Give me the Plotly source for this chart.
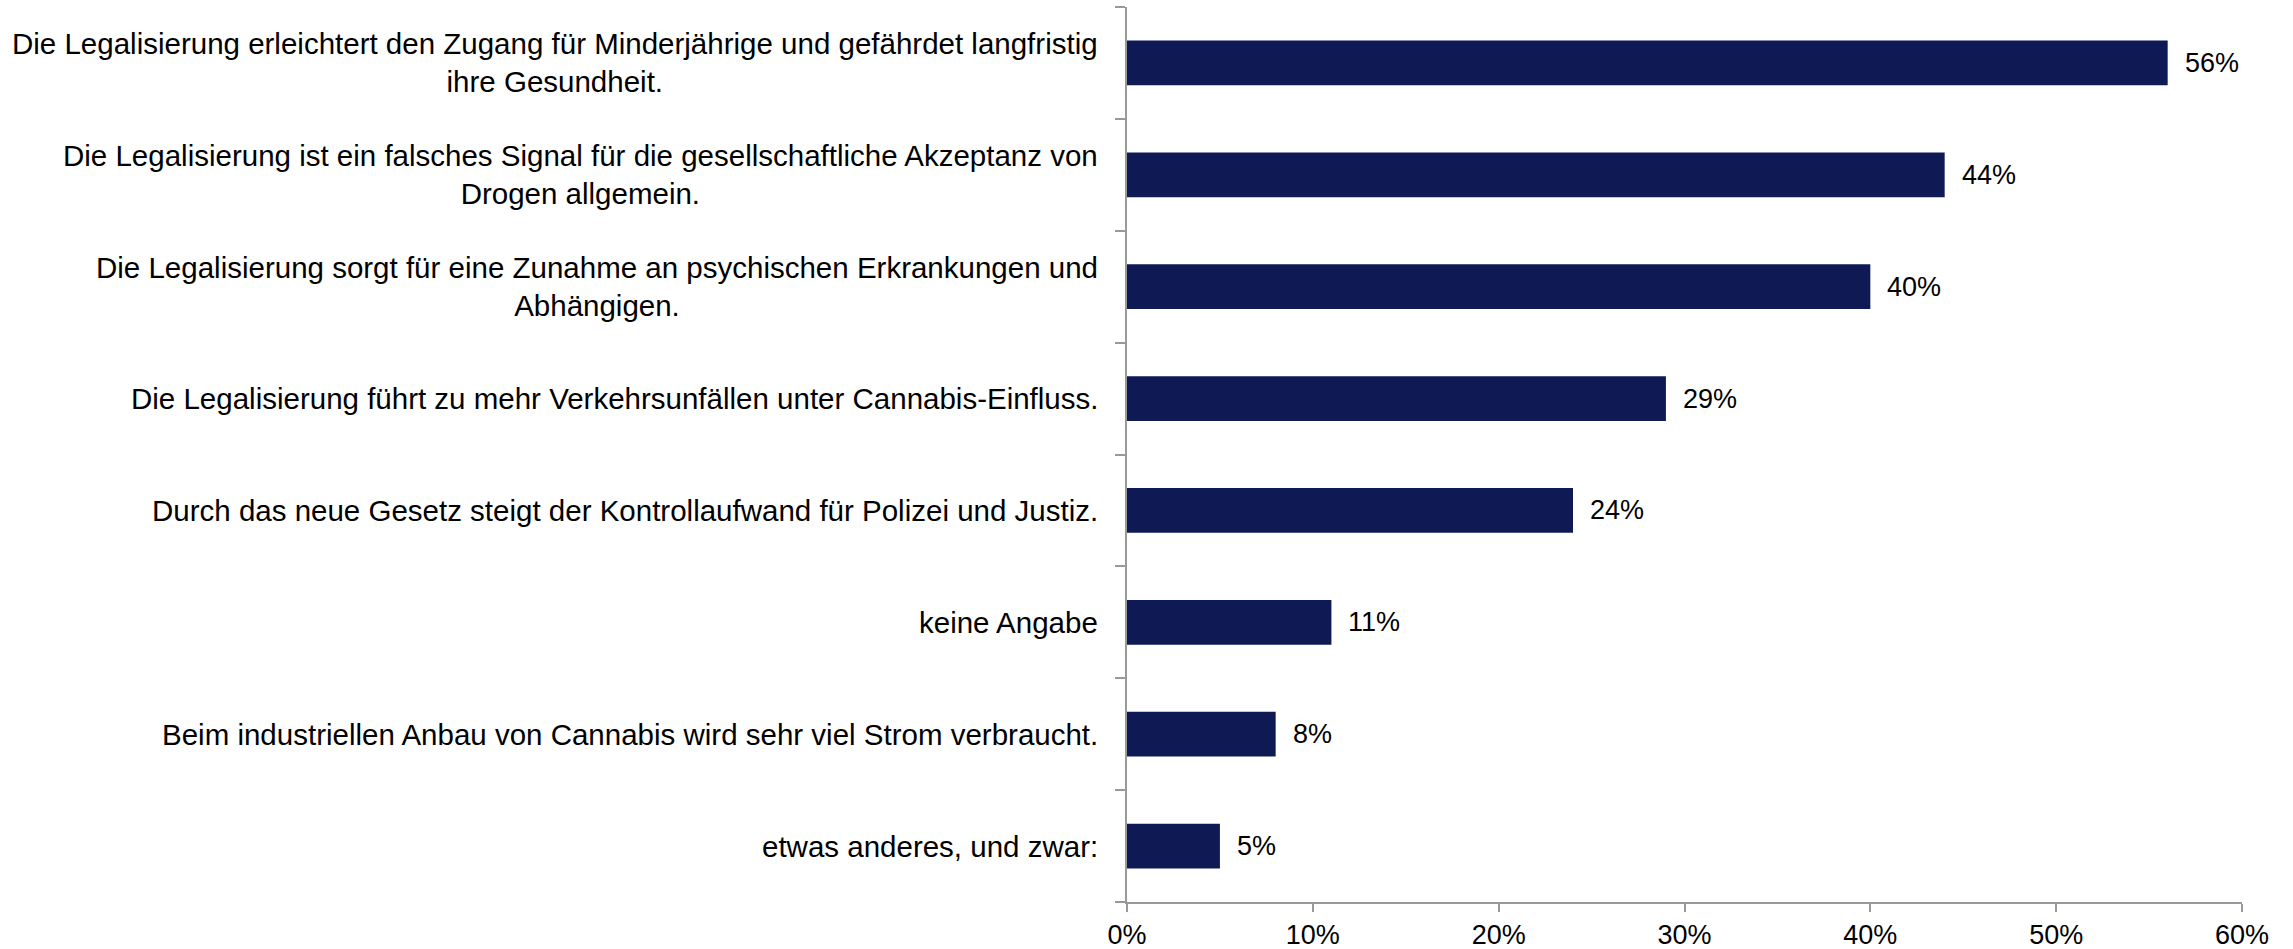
import plotly.graph_objects as go

categories = [
    "Die Legalisierung erleichtert den Zugang für Minderjährige und gefährdet langfristig<br>ihre Gesundheit.",
    "Die Legalisierung ist ein falsches Signal für die gesellschaftliche Akzeptanz von<br>Drogen allgemein.",
    "Die Legalisierung sorgt für eine Zunahme an psychischen Erkrankungen und<br>Abhängigen.",
    "Die Legalisierung führt zu mehr Verkehrsunfällen unter Cannabis-Einfluss.",
    "Durch das neue Gesetz steigt der Kontrollaufwand für Polizei und Justiz.",
    "keine Angabe",
    "Beim industriellen Anbau von Cannabis wird sehr viel Strom verbraucht.",
    "etwas anderes, und zwar:",
]
values = [56, 44, 40, 29, 24, 11, 8, 5]
x_ticks = [0, 10, 20, 30, 40, 50, 60]
x_tick_labels = [f"{t}%" for t in x_ticks]

FONT = "Liberation Sans, Arial, Helvetica, sans-serif"
FS_LABEL = 29.5
FS = 27
BAR = "#0f1a55"
AXIS = "#999999"

ids = list(range(len(categories)))

fig = go.Figure()
fig.add_trace(go.Bar(
    x=values, y=ids, orientation="h",
    marker=dict(color=BAR, line=dict(width=0)),
    width=0.4, hoverinfo="skip",
))

annotations = []
for i, (c, v) in enumerate(zip(categories, values)):
    annotations.append(dict(
        x=v, y=i, xref="x", yref="y", text=f"{v}%", showarrow=False,
        xanchor="left", yanchor="middle", xshift=15,
        font=dict(family=FONT, size=FS, color="#000000"),
    ))
    annotations.append(dict(
        x=0, y=i, xref="paper", yref="y", text=c, showarrow=False,
        xanchor="right", yanchor="middle", align="center", xshift=-27,
        font=dict(family=FONT, size=FS_LABEL, color="#000000"),
    ))

fig.update_layout(
    width=2293, height=949,
    margin=dict(l=1127, r=51, t=7, b=47, pad=0, autoexpand=False),
    paper_bgcolor="white", plot_bgcolor="white",
    showlegend=False,
    font=dict(family=FONT, size=FS, color="#000000"),
    annotations=annotations,
    xaxis=dict(
        range=[0, 60], tickvals=x_ticks, ticktext=x_tick_labels,
        showgrid=False, zeroline=False, automargin=False,
        showline=True, linecolor=AXIS, linewidth=2,
        ticks="outside", ticklen=8, tickwidth=2, tickcolor=AXIS,
        tickfont=dict(family=FONT, size=FS, color="#000000"),
        ticklabelstandoff=0,
    ),
    yaxis=dict(
        type="linear", range=[len(categories) - 0.5, -0.5],
        tickvals=[i - 0.5 for i in range(len(categories) + 1)],
        showticklabels=False, automargin=False,
        showgrid=False, zeroline=False,
        showline=True, linecolor=AXIS, linewidth=2,
        ticks="outside", ticklen=10, tickwidth=2, tickcolor=AXIS,
    ),
)

fig.write_html("out.html")
